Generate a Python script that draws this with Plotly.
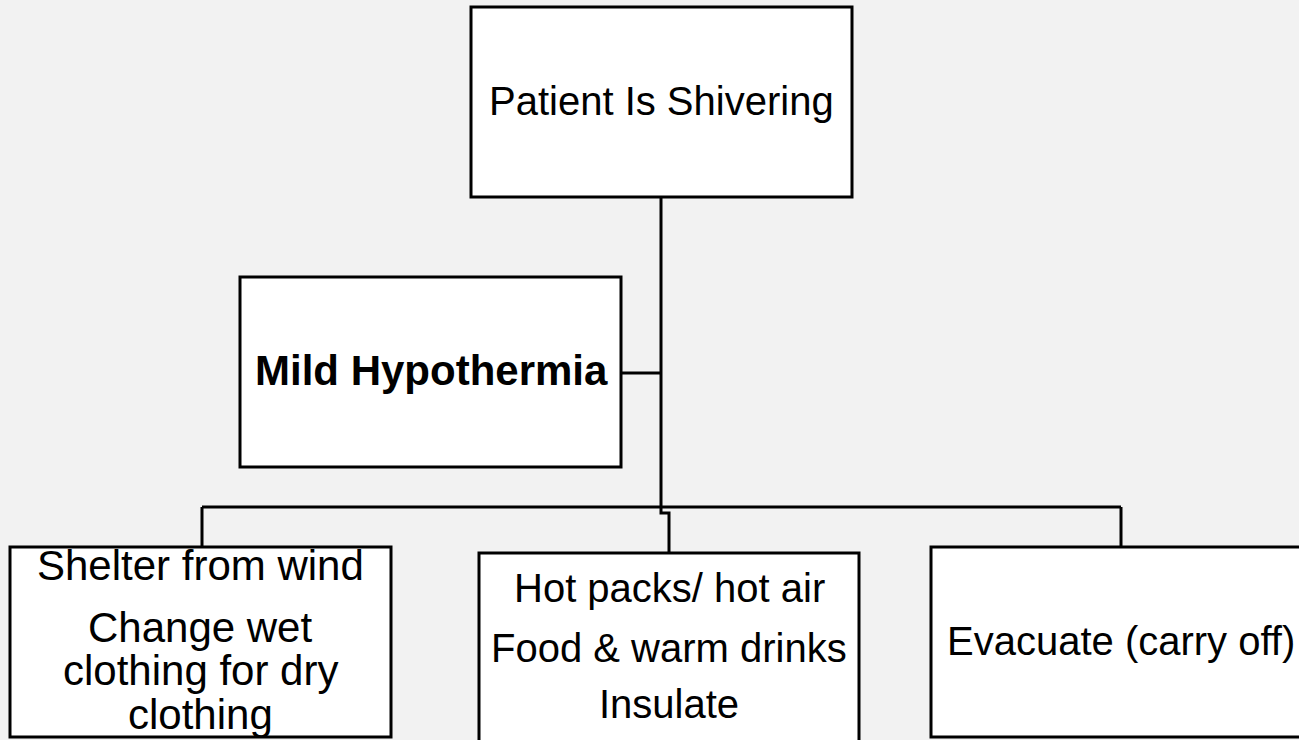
import plotly.graph_objects as go

# ---- content ----
node_names = ["root", "mild", "left", "middle", "right"]
node_lines = [
    ["Patient Is Shivering"],
    ["<b>Mild Hypothermia</b>"],
    ["Shelter from wind", "Change wet", "clothing for dry", "clothing"],
    ["Hot packs/ hot air", "Food & warm drinks", "Insulate"],
    ["Evacuate (carry off)"],
]

# ---- layout (pixel space of the 1299x740 canvas) ----
W, H = 1299, 740
box_x0 = [471, 240, 10, 479, 931]
box_x1 = [852, 621, 391, 859, 1320]
box_y0 = [7, 277, 547, 553, 547]
box_y1 = [197, 467, 737, 760, 737]
text_cx = [661, 431, 200, 669, 1121]
font_sizes = [40, 42, 42, 40, 40]
# baseline positions of each text line
line_baselines = [
    [115],
    [385],
    [580, 642, 685, 729],
    [602, 662, 718],
    [655],
]
BG = "#f2f2f2"

fig = go.Figure()

# connectors
trunk_x = 661
bus_y = 507
connectors = [
    ([trunk_x, trunk_x], [197, bus_y]),
    ([621, trunk_x], [373, 373]),
    ([202, 1121], [bus_y, bus_y]),
    ([202, 202], [bus_y, 547]),
    ([trunk_x, trunk_x, 669, 669], [bus_y, 513, 513, 553]),
    ([1121, 1121], [bus_y, 547]),
]
for xs, ys in connectors:
    fig.add_trace(go.Scatter(x=xs, y=ys, mode="lines",
                             line=dict(color="black", width=3),
                             hoverinfo="skip", showlegend=False))

shapes = []
for i in range(len(node_names)):
    shapes.append(dict(type="rect", xref="x", yref="y",
                       x0=box_x0[i], x1=box_x1[i], y0=box_y0[i], y1=box_y1[i],
                       fillcolor="white", line=dict(color="black", width=3),
                       layer="above"))

annotations = []
for i in range(len(node_names)):
    fs = font_sizes[i]
    for txt, base in zip(node_lines[i], line_baselines[i]):
        annotations.append(dict(x=text_cx[i], y=base - 0.35 * fs,
                                xref="x", yref="y",
                                text=txt, showarrow=False, xanchor="center",
                                yanchor="middle",
                                font=dict(family="Liberation Sans, Arial, sans-serif",
                                          size=fs, color="black")))

fig.update_layout(
    width=W, height=H,
    margin=dict(l=0, r=0, t=0, b=0),
    paper_bgcolor=BG, plot_bgcolor=BG,
    shapes=shapes, annotations=annotations,
    xaxis=dict(range=[0, W], visible=False, fixedrange=True),
    yaxis=dict(range=[H, 0], visible=False, fixedrange=True),
    showlegend=False,
)

fig.write_html("out.html", config={"displayModeBar": False},
               post_script="document.body.style.margin='0';document.body.style.background='#f2f2f2';")
